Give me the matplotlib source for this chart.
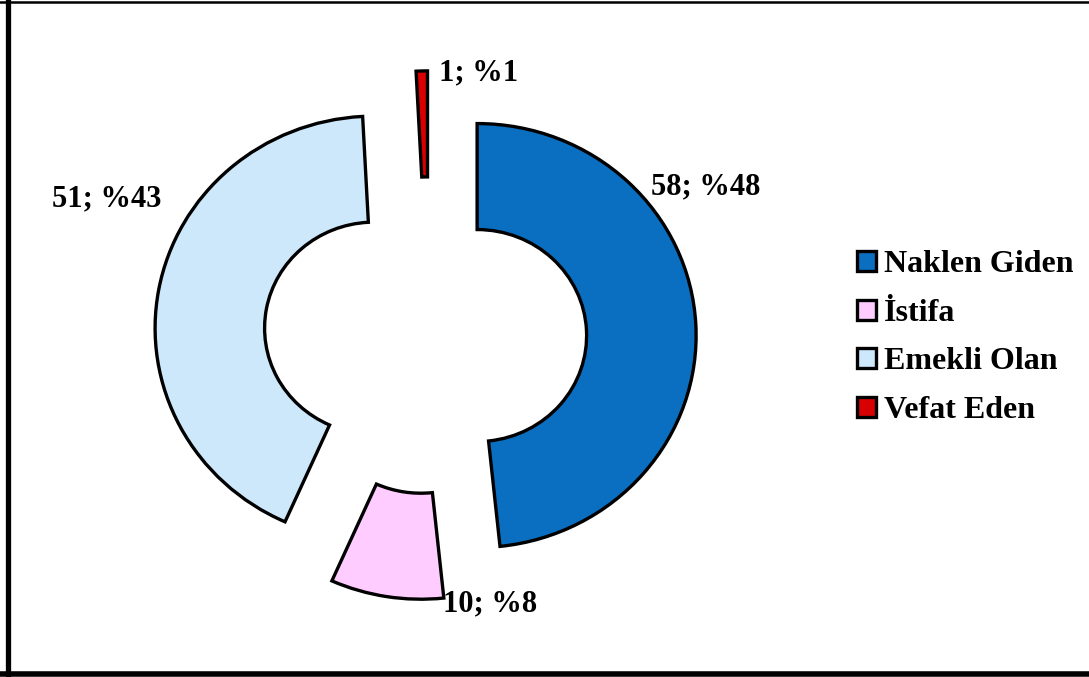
import matplotlib
matplotlib.use('Agg')
import matplotlib.pyplot as plt
from matplotlib.lines import Line2D

plt.rcParams['font.family'] = ['Liberation Serif', 'DejaVu Serif']
plt.rcParams['font.weight'] = 'bold'

# veriler
categories = ['Naklen Giden', 'İstifa', 'Emekli Olan', 'Vefat Eden']
values = [58, 10, 51, 1]
colors = ['#0a6fc0', '#ffccff', '#cde7fb', '#d80000']
explode = [0.22, 0.235, 0.255, 0.26]

W, H = 1089, 677
CX, CY = 429, 338      # piksel: merkez
RX, RY = 219, 212      # piksel: dış yarıçap (yatay / dikey)


def px(x, y):
    # piksel (üstten) -> veri koordinatı
    return (x - CX) / RX, (CY - y) / RY


fig = plt.figure(figsize=(W / 100, H / 100), dpi=100)
ax = fig.add_axes([0, 0, 1, 1])

wedges, _ = ax.pie(values, colors=colors, startangle=90, counterclock=False,
                   explode=explode, radius=1.0,
                   wedgeprops=dict(width=0.5, edgecolor='black', linewidth=2.4))

ax.set_xlim(px(0, 0)[0], px(W, 0)[0])
ax.set_ylim(px(0, H)[1], px(0, 0)[1])
ax.set_aspect('auto')
ax.axis('off')

total = sum(values)
labels = [f'{v}; %{int(v / total * 100 + 0.5)}' for v in values]
label_pos = [(706, 187), (490, 604), (107, 199), (479, 73)]
for lab, (x, y) in zip(labels, label_pos):
    ax.text(*px(x, y), lab, ha='center', va='center', fontsize=22,
            fontweight='bold', color='black')

leg = fig.legend(wedges, categories, loc='upper left',
                 bbox_to_anchor=(841 / W, 1 - 234.5 / H), frameon=False,
                 fontsize=23, handlelength=0.6, handleheight=0.6,
                 handletextpad=0.24, labelspacing=0.61, borderpad=0)
for t in leg.get_texts():
    t.set_fontweight('bold')

# çerçeve
fig.add_artist(Line2D([7.5 / W, 7.5 / W], [0, 1], color='black', lw=3.8,
                      transform=fig.transFigure))
fig.add_artist(Line2D([0, 1], [1 - 2 / H, 1 - 2 / H], color='black', lw=1.8,
                      transform=fig.transFigure))
fig.add_artist(Line2D([0, 1], [3 / H, 3 / H], color='black', lw=4,
                      transform=fig.transFigure))

fig.savefig('out.png', dpi=100)
